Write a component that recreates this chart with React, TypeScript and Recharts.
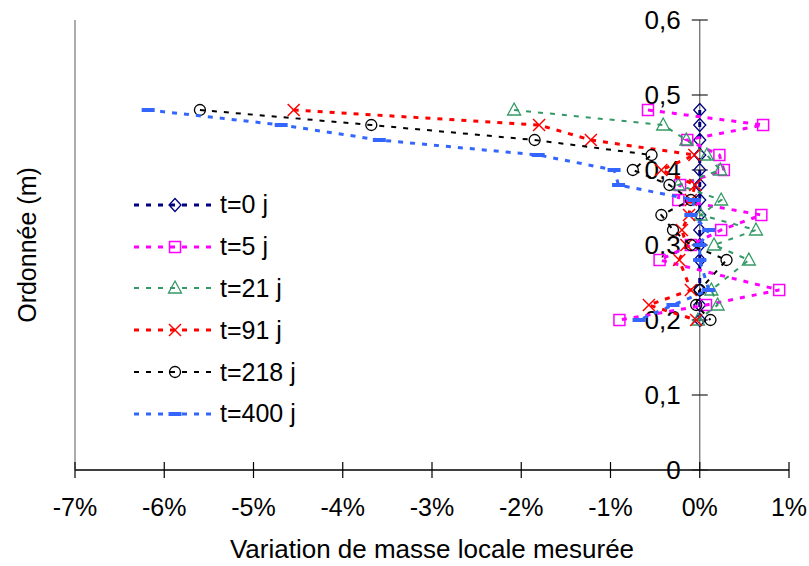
import React from "react";
import { ScatterChart, Scatter, XAxis, YAxis, ReferenceLine, Legend } from "recharts";

// measurement depths (m), 0.26 level not measured
const depths = [0.48, 0.46, 0.44, 0.42, 0.4, 0.38, 0.36, 0.34, 0.32, 0.3, 0.28, 0.24, 0.22, 0.2];

// local mass variation (%) per date
const t0 = [0, 0, 0, 0, 0, 0, 0, 0, 0, 0, 0, 0, 0, 0];
const t5 = [-0.58, 0.71, -0.14, 0.22, 0.27, -0.22, -0.24, 0.69, 0.24, -0.1, -0.45, 0.89, 0.07, -0.9];
const t21 = [-2.08, -0.41, -0.15, 0.08, 0.23, -0.24, 0.24, 0.01, 0.63, 0.16, 0.55, 0.13, 0.2, -0.02];
const t91 = [-4.55, -1.8, -1.22, -0.06, -0.43, -0.05, -0.1, -0.12, -0.2, -0.15, -0.23, -0.1, -0.57, -0.04];
const t218 = [-5.6, -3.68, -1.85, -0.54, -0.75, -0.34, -0.1, -0.43, -0.3, -0.1, 0.3, 0, -0.04, 0.12];
const t400 = [-6.18, -4.69, -3.59, -1.81, -0.96, -0.91, -0.06, -0.1, 0.1, 0, 0, 0.1, -0.3, -0.68];

const seriesLabels = ["t=0 j", "t=5 j", "t=21 j", "t=91 j", "t=218 j", "t=400 j"];
const xTicks = [-7, -6, -5, -4, -3, -2, -1, 0, 1];
const yTicks = [0, 0.1, 0.2, 0.3, 0.4, 0.5, 0.6];

const FONT = '"Liberation Sans", Arial, sans-serif';

type MarkKind = "diamond" | "square" | "triangle" | "cross" | "circle" | "dash";

const series: { label: string; values: number[]; color: string; mark: MarkKind; width: number }[] = [
    { label: seriesLabels[0], values: t0, color: "#000080", mark: "diamond", width: 3 },
    { label: seriesLabels[1], values: t5, color: "#FF00FF", mark: "square", width: 3 },
    { label: seriesLabels[2], values: t21, color: "#339966", mark: "triangle", width: 2 },
    { label: seriesLabels[3], values: t91, color: "#FF0000", mark: "cross", width: 3 },
    { label: seriesLabels[4], values: t218, color: "#000000", mark: "circle", width: 2 },
    { label: seriesLabels[5], values: t400, color: "#3366FF", mark: "dash", width: 3 },
];

const toPoints = (values: number[]) => values.map((v, i) => ({ x: v, y: depths[i] }));

function Marker({ kind, cx, cy, color }: { kind: MarkKind; cx: number; cy: number; color: string }) {
    switch (kind) {
        case "diamond":
            return <polygon points={`${cx},${cy - 6.5} ${cx + 6},${cy} ${cx},${cy + 6.5} ${cx - 6},${cy}`} fill="none" stroke={color} strokeWidth={1.3} />;
        case "square":
            return <rect x={cx - 5.5} y={cy - 5.5} width={11} height={11} fill="none" stroke={color} strokeWidth={1.5} />;
        case "triangle":
            return <polygon points={`${cx},${cy - 7} ${cx + 6.5},${cy + 5} ${cx - 6.5},${cy + 5}`} fill="none" stroke={color} strokeWidth={1.3} />;
        case "cross":
            return (
                <g stroke={color} strokeWidth={1.5}>
                    <line x1={cx - 6} y1={cy - 6} x2={cx + 6} y2={cy + 6} />
                    <line x1={cx - 6} y1={cy + 6} x2={cx + 6} y2={cy - 6} />
                </g>
            );
        case "circle":
            return <circle cx={cx} cy={cy} r={5.5} fill="none" stroke={color} strokeWidth={1.3} />;
        default:
            return <rect x={cx - 6.5} y={cy - 2} width={13} height={4} fill={color} />;
    }
}

const XTick = ({ x, y, payload }: any) => (
    <g>
        <line x1={x} x2={x} y1={y - 8} y2={y + 8} stroke="#000" strokeWidth={1.2} />
        <text x={x} y={y + 46} textAnchor="middle" fontSize={25} fontFamily={FONT} fill="#000">
            {`${payload.value}%`}
        </text>
    </g>
);

// y axis crosses at x = 0, so its ticks are drawn as a point series
const YTickShape = ({ cx, cy, payload }: any) => (
    <g>
        <line x1={cx - 8} x2={cx + 8} y1={cy} y2={cy} stroke="#222" strokeWidth={1.2} />
        <text x={cx - 19} y={cy} dy="0.36em" textAnchor="end" fontSize={26} fontFamily={FONT} fill="#000">
            {payload.y === 0 ? "0" : payload.y.toFixed(1).replace(".", ",")}
        </text>
    </g>
);

const YTitle = ({ viewBox }: any) => {
    const cx = viewBox.x + 27;
    const cy = viewBox.y + viewBox.height / 2;
    return (
        <text
            x={cx}
            y={cy}
            dy="0.36em"
            transform={`rotate(-90, ${cx}, ${cy})`}
            textAnchor="middle"
            fontSize={25}
            fontFamily={FONT}
            fill="#000"
        >
            Ordonnée (m)
        </text>
    );
};

const renderLegend = () => (
    <div style={{ fontFamily: FONT, fontSize: 25, color: "#000" }}>
        {series.map((s) => (
            <div key={s.label} style={{ display: "flex", alignItems: "center", height: 41.8 }}>
                <svg width={86} height={20}>
                    <line x1={4} x2={81} y1={10} y2={10} stroke={s.color} strokeWidth={s.width} strokeDasharray="5 7" />
                    <Marker kind={s.mark} cx={45} cy={10} color={s.color} />
                </svg>
                <span style={{ marginLeft: 4, lineHeight: 1 }}>{s.label}</span>
            </div>
        ))}
    </div>
);

export default function App() {
    return (
        <div style={{ position: "absolute", left: 0, top: 0, background: "#fff" }}>
            <ScatterChart width={809} height={566} margin={{ top: 20, right: 20, bottom: 0, left: 0 }}>
                <XAxis
                    dataKey="x"
                    type="number"
                    domain={[-7, 1]}
                    ticks={xTicks}
                    interval={0}
                    height={96}
                    tickSize={0}
                    tickMargin={0}
                    tickLine={false}
                    tick={<XTick />}
                    axisLine={{ stroke: "#000", strokeWidth: 1.3 }}
                    label={{
                        value: "Variation de masse locale mesurée",
                        position: "insideBottom",
                        offset: 8,
                        style: { fontSize: 26, fontFamily: FONT, fill: "#000" }
                    }}
                />
                <XAxis xAxisId="top" orientation="top" dataKey="x" type="number" domain={[-7, 1]} height={0} tick={false} tickLine={false} axisLine={{ stroke: "#808080", strokeWidth: 1.3 }} />
                <YAxis
                    dataKey="y"
                    type="number"
                    domain={[0, 0.6]}
                    width={75}
                    tick={false}
                    tickLine={false}
                    axisLine={{ stroke: "#808080", strokeWidth: 1.3 }}
                    label={<YTitle />}
                />
                <YAxis yAxisId="r" orientation="right" dataKey="y" type="number" domain={[0, 0.6]} width={0} tick={false} tickLine={false} axisLine={{ stroke: "#808080", strokeWidth: 1.3 }} />
                <ReferenceLine x={0} stroke="#666" strokeWidth={1.2} />
                <Scatter
                    data={yTicks.map((v) => ({ x: 0, y: v }))}
                    shape={(p: any) => <YTickShape {...p} />}
                    isAnimationActive={false}
                />
                {series.map((s) => (
                    <Scatter
                        key={s.label}
                        name={s.label}
                        data={toPoints(s.values)}
                        line={{ stroke: s.color, strokeWidth: s.width, strokeDasharray: "5 7" }}
                        lineType="joint"
                        shape={(p: any) => <Marker kind={s.mark} cx={p.cx} cy={p.cy} color={s.color} />}
                        isAnimationActive={false}
                    />
                ))}
                <Legend
                    layout="vertical"
                    align="center"
                    verticalAlign="middle"
                    wrapperStyle={{ left: 130, top: 184, width: 200 }}
                    content={renderLegend}
                />
            </ScatterChart>
        </div>
    );
}
